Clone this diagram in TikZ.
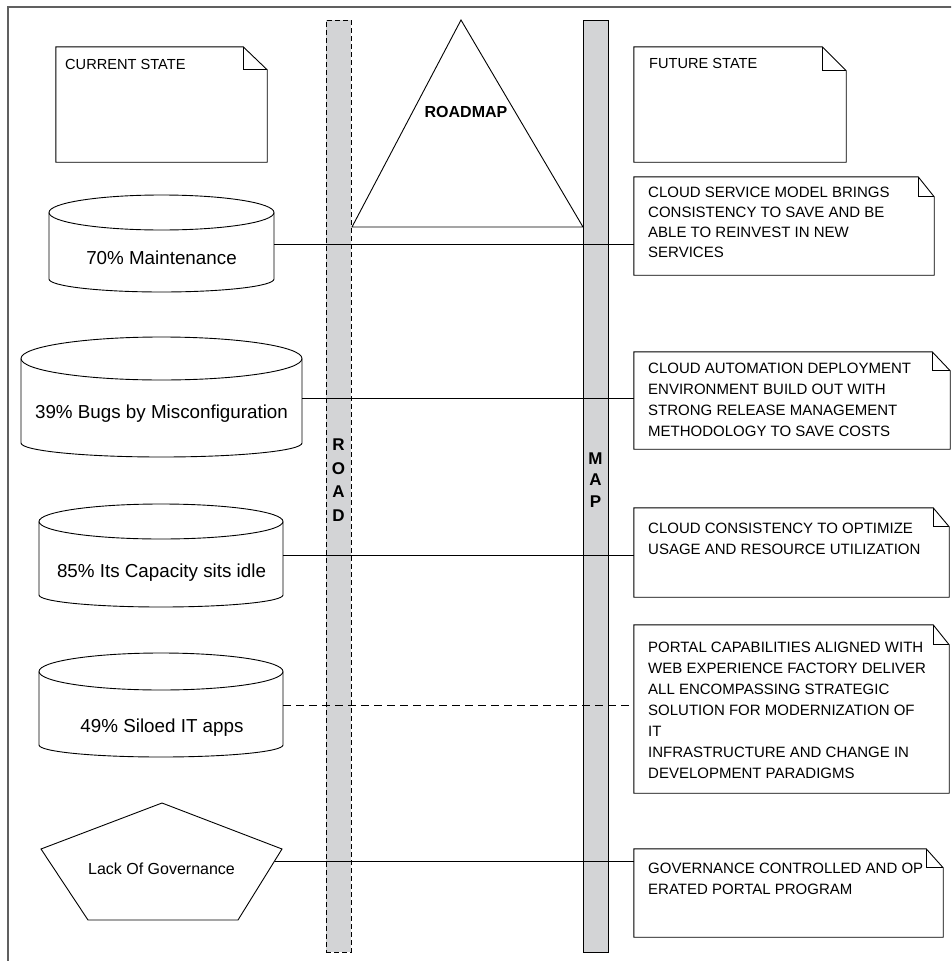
\documentclass[tikz,border=0pt]{standalone}
\usepackage{fontspec}
\setmainfont{Liberation Sans}
\usetikzlibrary{calc}
\definecolor{barfill}{HTML}{D3D4D6}
\definecolor{framegray}{HTML}{606060}
% note: name, x0, y0, x1, y1, fold width, fold height
\newcommand\mynote[7]{%
  \node[inner sep=0pt, minimum width={#4-#2}, minimum height={#5-#3}] (#1) at ({(#2+#4)/2},{(#3+#5)/2}) {};
  \draw[ln, fill=white] (#1.north west) -- ([xshift=-#6pt]#1.north east) -- ([yshift=-#7pt]#1.north east) -- (#1.south east) -- (#1.south west) -- cycle;
  \draw[ln] ([xshift=-#6pt]#1.north east) |- ([yshift=-#7pt]#1.north east);
}
% cylinder: x0, x1, ytop, ry, yside-bottom, bottom depth
\newcommand\mycyl[6]{%
  \draw[ln] (#1,{#3+#4}) -- (#1,#5) arc[start angle=180, end angle=360, x radius={(#2-#1)/2*1pt}, y radius=#6pt] -- (#2,{#3+#4});
  \draw[ln] ({(#1+#2)/2},{#3+#4}) ellipse[x radius={(#2-#1)/2*1pt}, y radius=#4pt];
}
\begin{document}
\begin{tikzpicture}[x=1pt,y=-1pt,
  ln/.style={draw=black, line width=0.9pt},
  bar/.style={draw=black, fill=barfill, line width=0.9pt, minimum width=25pt, minimum height=932pt, inner sep=0pt},
  cyltext/.style={anchor=base, font=\fontsize{18.8}{22}\selectfont, inner sep=0pt},
  notetext/.style={anchor=north west, align=left, inner sep=0pt, font=\fontsize{15}{21}\selectfont},
  titletext/.style={anchor=base west, inner sep=0pt, font=\fontsize{14.6}{18}\selectfont},
  bartext/.style={align=center, inner sep=0pt}]
\useasboundingbox (0,0) rectangle (951,961);
\clip (0,0) rectangle (951,961);
% frame
\draw[framegray, line width=1.4pt] (8,7) rectangle (1000,1000);
% bars
\node[bar, dash pattern=on 5pt off 3pt] (road) at (338.5,486) {};
\node[bar] (map) at (595.5,486) {};
\node[bartext, font=\bfseries\fontsize{17}{23.5}\selectfont] (roadtxt) at (338.5,480) {R\\O\\A\\D};
\node[bartext, font=\bfseries\fontsize{17}{21.5}\selectfont] (maptxt) at (595.5,480) {M\\A\\P};
% triangle
\coordinate (tA) at (461,20);
\coordinate (tB) at (583,227);
\coordinate (tC) at (352,227);
\draw[ln] (tA) -- (tB) -- (tC) -- cycle;
\node[anchor=base, inner sep=0pt, font=\bfseries\fontsize{16}{19}\selectfont] (roadmap) at (466,117) {ROADMAP};
% state notes
\mynote{cur}{56}{47}{267}{162}{24}{23}
\node[titletext] (curtxt) at (65,69) {CURRENT STATE};
\mynote{fut}{634}{47}{846}{162}{24}{24}
\node[titletext] (futtxt) at (649,68.5) {FUTURE STATE};
% future notes
\mynote{n1}{634}{177}{934}{275}{16}{20}
\node[notetext, font=\fontsize{15}{20}\selectfont] (n1t) at (648,186.5) {CLOUD SERVICE MODEL BRINGS\\CONSISTENCY TO SAVE AND BE\\ABLE TO REINVEST IN NEW\\SERVICES};
\mynote{n2}{634}{352}{950}{449}{18}{19}
\node[notetext] (n2t) at (648,363) {CLOUD AUTOMATION DEPLOYMENT\\ENVIRONMENT BUILD OUT WITH\\STRONG RELEASE MANAGEMENT\\METHODOLOGY TO SAVE COSTS};
\mynote{n3}{634}{508}{949}{597}{16}{19}
\node[notetext] (n3t) at (648,522.5) {CLOUD CONSISTENCY TO OPTIMIZE\\USAGE AND RESOURCE UTILIZATION};
\mynote{n4}{634}{625}{949}{793}{16}{20}
\node[notetext] (n4t) at (648,642) {PORTAL CAPABILITIES ALIGNED WITH\\WEB EXPERIENCE FACTORY DELIVER\\ALL ENCOMPASSING STRATEGIC\\SOLUTION FOR MODERNIZATION OF\\IT\\INFRASTRUCTURE AND CHANGE IN\\DEVELOPMENT PARADIGMS};
\mynote{n5}{634}{849}{943}{937}{17}{19}
\node[notetext] (n5t) at (648,863) {GOVERNANCE CONTROLLED AND OP\\ERATED PORTAL PROGRAM};
% cylinders
\mycyl{49}{274}{195}{17.5}{279}{13}
\node[cyltext] (c1) at (161.5,264) {70\% Maintenance};
\mycyl{21}{302}{337}{21.5}{443}{14}
\node[cyltext] (c2) at (161.5,418) {39\% Bugs by Misconfiguration};
\mycyl{39}{283}{504}{17.5}{595}{12}
\node[cyltext] (c3) at (161.5,577) {85\% Its Capacity sits idle};
\mycyl{39}{283}{653}{18.5}{745}{12}
\node[cyltext] (c4) at (162,732) {49\% Siloed IT apps};
% pentagon
\draw[ln] (162,803) -- (282,849) -- (238,920) -- (88,920) -- (41,849) -- cycle;
\node[anchor=base, inner sep=0pt, font=\fontsize{16}{19}\selectfont] (gov) at (161.5,874) {Lack Of Governance};
% connectors
\coordinate (c1r) at (274,244);
\coordinate (c2r) at (302,398);
\coordinate (c3r) at (283,555);
\coordinate (c4r) at (283,705);
\coordinate (govr) at (274.6,861);
\draw[ln] (c1r) -- (c1r -| n1.west);
\draw[ln] (c2r) -- (c2r -| n2.west);
\draw[ln] (c3r) -- (c3r -| n3.west);
\draw[ln, dash pattern=on 8pt off 5pt] (c4r) -- (c4r -| n4.west);
\draw[ln] (govr) -- (govr -| n5.west);
\end{tikzpicture}
\end{document}
